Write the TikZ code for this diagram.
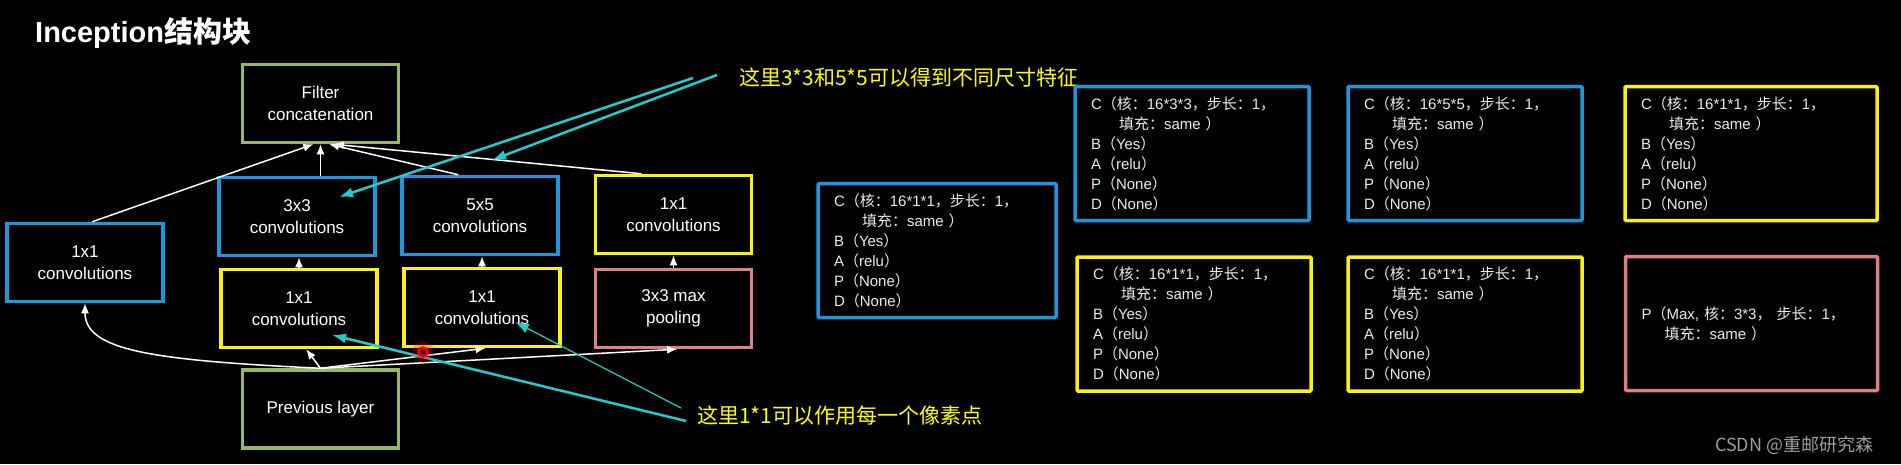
\documentclass[tikz,border=0pt]{standalone}
\usepackage{fontspec}
\setmainfont{Liberation Sans}
\newfontfamily\cjk{Noto Sans CJK SC}
\usetikzlibrary{arrows.meta}

\definecolor{boxblue}{RGB}{28,150,220}
\definecolor{boxyellow}{RGB}{250,240,20}
\definecolor{boxpink}{RGB}{222,128,128}
\definecolor{boxgreen}{RGB}{150,185,95}
\definecolor{notecyan}{RGB}{30,205,205}
\definecolor{notetext}{RGB}{255,255,0}

% six lines of one conv layer
\newcommand{\convinfo}[1]{C{\cjk （核：}#1{\cjk ，步长：}1{\cjk ，}\\
  \hspace*{28pt}{\cjk 填充：}same {\cjk ）}\\
  B{\cjk （}Yes{\cjk ）}\\
  A{\cjk （}relu{\cjk ）}\\
  P{\cjk （}None{\cjk ）}\\
  D{\cjk （}None{\cjk ）}}

\begin{document}
\begin{tikzpicture}[x=1pt,y=-1pt,>={Latex[length=10pt,width=8pt]}]
  \tikzstyle{blk}=[draw, line width=3.5pt, minimum width=156pt, minimum height=78pt, align=center, text=white, font=\fontsize{17}{22}\selectfont]
  \tikzstyle{spec}=[draw, line width=3.5pt, rounded corners=1pt, minimum width=234pt, minimum height=134pt, text width=202pt, inner xsep=16pt, align=left, text=white!92!black, font=\fontsize{15}{20}\selectfont]
  \tikzstyle{arr}=[->, white, line width=1.5pt]
  \tikzstyle{note}=[->, notecyan, line width=2.5pt, >={Latex[length=14pt,width=10pt]}]

  \fill[black] (0,0) rectangle (1901,464);

  \node[anchor=west, text=white, font=\bfseries\fontsize{29}{32}\selectfont, inner sep=0pt] (title) at (35,33) {Inception{\cjk 结构块}};

  % inception block
  \node[blk, draw=boxgreen] (concat) at (320.5,103.5) {Filter\\concatenation};
  \node[blk, draw=boxblue] (conv3) at (297,216.5) {3x3\\convolutions};
  \node[blk, draw=boxblue] (conv5) at (480,215.5) {5x5\\convolutions};
  \node[blk, draw=boxyellow] (conv1r) at (673.5,214.5) {1x1\\convolutions};
  \node[blk, draw=boxblue] (conv1l) at (85,262.5) {1x1\\convolutions};
  \node[blk, draw=boxyellow] (red3) at (299,308.5) {1x1\\convolutions};
  \node[blk, draw=boxyellow] (red5) at (482,307.5) {1x1\\convolutions};
  \node[blk, draw=boxpink] (pool) at (673.5,308.5) {3x3 max\\pooling};
  \node[blk, draw=boxgreen] (prev) at (320.5,409) {Previous layer};

  \draw[arr] (prev.north) .. controls +(-170,-8) and +(0,47) .. (conv1l.south);
  \draw[arr] (prev.north) -- (red3.-80);
  \draw[arr] (prev.north) -- (red5.-85);
  \draw[arr] (prev.north) -- (pool.-85);
  \draw[arr] (red3.north) -- (red3.north |- conv3.south);
  \draw[arr] (red5.north) -- (red5.north |- conv5.south);
  \draw[arr] (pool.north) -- (pool.north |- conv1r.south);
  \draw[arr] (conv1l.80) -- (concat.-100);
  \draw[arr] (conv3.north -| concat.south) -- (concat.south);
  \draw[arr] (conv5.118) -- (concat.-78);
  \draw[arr] (conv1r.128) -- (concat.-72);

  % notes
  \node[anchor=west, text=notetext, font=\cjk\fontsize{21}{24}\selectfont, inner sep=0pt] (note1) at (739,78) {这里3*3和5*5可以得到不同尺寸特征};
  \node[anchor=west, text=notetext, font=\cjk\fontsize{21}{24}\selectfont, inner sep=0pt] (note2) at (697,416) {这里1*1可以作用每一个像素点};
  \coordinate (n1a) at (693,78);
  \coordinate (n1b) at (717,75);
  \coordinate (n2a) at (681,408);
  \coordinate (n2b) at (686,421);
  \coordinate (h3) at (339,197);
  \coordinate (h5) at (492,160);
  \coordinate (h1a) at (515,322);
  \coordinate (h1b) at (332,335);
  \draw[note] (n1a) -- (h3);
  \draw[note] (n1b) -- (h5);
  \draw[note, line width=1.2pt] (n2a) -- (h1a);
  \draw[note] (n2b) -- (h1b);

  \fill[red, opacity=0.25] (423,352) circle (11);
  \draw[red, line width=2.5pt] (423,352) circle (4.5);

  % layer settings
  \node[spec, draw=boxblue, minimum width=238pt, text width=206pt] (s1) at (937,250.5) {\convinfo{16*1*1}};
  \node[spec, draw=boxblue] (s2) at (1192,153.5) {\convinfo{16*3*3}};
  \node[spec, draw=boxblue] (s3) at (1465,153.5) {\convinfo{16*5*5}};
  \node[spec, draw=boxyellow, minimum width=252pt, text width=220pt] (s4) at (1751,153.5) {\convinfo{16*1*1}};
  \node[spec, draw=boxyellow] (s5) at (1194,324) {\convinfo{16*1*1}};
  \node[spec, draw=boxyellow] (s6) at (1465,324) {\convinfo{16*1*1}};
  \node[spec, draw=boxpink, minimum width=252pt, text width=220pt] (s7) at (1751.5,323.5) {P{\cjk （}Max, {\cjk 核：}3*3{\cjk ，} {\cjk 步长：}1{\cjk ，}\\\hspace*{23pt}{\cjk 填充：}same {\cjk ）}};

  \node[anchor=west, text=white!62!black, font=\cjk\fontsize{18}{20}\selectfont, inner sep=0pt] (mark) at (1715,445) {CSDN @重邮研究森};
\end{tikzpicture}
\end{document}
